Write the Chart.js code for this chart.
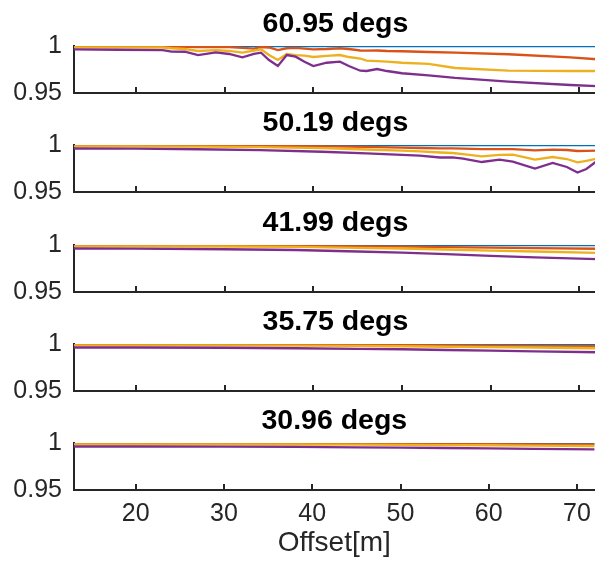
<!DOCTYPE html>
<html>
<head>
<meta charset="utf-8">
<script src="https://cdn.jsdelivr.net/npm/chart.js@4.4.1/dist/chart.umd.min.js"></script>
<style>
  html, body { margin: 0; padding: 0; background: #fff; overflow: hidden; }
  #wrap { position: relative; width: 595px; height: 561px; overflow: hidden; }
  #wrap canvas { position: absolute; left: 0; }
</style>
</head>
<body>
<div id="wrap"></div>
<script>
"use strict";

// panel titles (dip angle)
const titles = ['60.95 degs', '50.19 degs', '41.99 degs', '35.75 degs', '30.96 degs'];

const xTicks = [20, 30, 40, 50, 60, 70];
const yTicks = [0.95, 1];
const yTickLabels = ['0.95', '1'];

// 60.95 degs
const offsets61 = [13, 18, 23, 24, 25.5, 27, 29, 30.5, 32, 33.3, 34.1, 35, 36, 37, 38, 39, 40, 41.5, 43, 44, 45.3, 46, 47.2, 48.3, 50, 53, 56, 62, 69, 72];
const blue61   = [1, 1, 1, 1, 1, 1, 1, 1, 1, 1, 1, 1, 1, 1, 1, 1, 1, 1, 1, 1, 1, 1, 1, 1, 1, 1, 1, 1, 1, 1];
const orange61 = [0.9994, 0.9994, 0.9993, 0.9991, 0.9991, 0.9989, 0.9989, 0.9987, 0.9979, 0.9973, 0.9989, 0.9984, 0.9957, 0.9976, 0.9979, 0.9973, 0.9965, 0.9968, 0.9976, 0.9968, 0.9952, 0.9950, 0.9952, 0.9947, 0.9944, 0.9936, 0.9929, 0.9912, 0.9878, 0.9859];
const yellow61 = [0.9986, 0.9985, 0.9984, 0.9976, 0.9968, 0.9947, 0.9957, 0.9947, 0.9929, 0.9950, 0.9965, 0.9904, 0.9851, 0.9915, 0.9904, 0.9897, 0.9883, 0.9894, 0.9904, 0.9883, 0.9867, 0.9844, 0.9840, 0.9833, 0.9822, 0.9809, 0.9766, 0.9737, 0.9734, 0.9734];
const purple61 = [0.9965, 0.9960, 0.9957, 0.9941, 0.9939, 0.9904, 0.9933, 0.9915, 0.9880, 0.9915, 0.9929, 0.9851, 0.9787, 0.9904, 0.9886, 0.9833, 0.9787, 0.9822, 0.9833, 0.9787, 0.9737, 0.9734, 0.9755, 0.9734, 0.9710, 0.9688, 0.9660, 0.9620, 0.9585, 0.9574];

// 50.19 degs
const offsets50 = [13, 20, 27, 34, 41, 46, 50, 52, 54.3, 55.7, 56.9, 59, 61, 62.5, 65, 67, 68.6, 69.8, 70.8, 72];
const blue50   = [1, 1, 1, 1, 1, 1, 1, 1, 1, 1, 1, 1, 1, 1, 1, 1, 1, 1, 1, 1];
const orange50 = [0.9991, 0.9991, 0.9990, 0.9989, 0.9986, 0.9979, 0.9972, 0.9968, 0.9965, 0.9965, 0.9962, 0.9957, 0.9957, 0.9957, 0.9943, 0.9950, 0.9947, 0.9936, 0.9938, 0.9941];
const yellow50 = [0.9986, 0.9985, 0.9982, 0.9977, 0.9966, 0.9952, 0.9941, 0.9932, 0.9920, 0.9915, 0.9904, 0.9879, 0.9894, 0.9897, 0.9844, 0.9872, 0.9851, 0.9815, 0.9830, 0.9856];
const purple50 = [0.9963, 0.9961, 0.9955, 0.9945, 0.9928, 0.9910, 0.9894, 0.9886, 0.9867, 0.9869, 0.9856, 0.9819, 0.9844, 0.9824, 0.9750, 0.9809, 0.9766, 0.9707, 0.9745, 0.9830];

// 41.99, 35.75 and 30.96 degs share one offset grid
const offsetsLow = [13, 20, 30, 38, 45, 50, 55, 60, 65, 72];

const blue42   = [1, 1, 1, 1, 1, 1, 1, 1, 1, 1];
const orange42 = [0.9993, 0.9993, 0.9991, 0.9989, 0.9985, 0.9982, 0.9978, 0.9972, 0.9967, 0.9960];
const yellow42 = [0.9986, 0.9986, 0.9984, 0.9979, 0.9970, 0.9963, 0.9952, 0.9941, 0.9931, 0.9917];
const purple42 = [0.9963, 0.9962, 0.9955, 0.9947, 0.9931, 0.9918, 0.9902, 0.9885, 0.9869, 0.9849];

const blue36   = [1, 1, 1, 1, 1, 1, 1, 1, 1, 1];
const orange36 = [0.9993, 0.9993, 0.9993, 0.9991, 0.9989, 0.9987, 0.9985, 0.9983, 0.9981, 0.9978];
const yellow36 = [0.9986, 0.9986, 0.9985, 0.9983, 0.9979, 0.9976, 0.9971, 0.9967, 0.9963, 0.9955];
const purple36 = [0.9963, 0.9963, 0.9960, 0.9955, 0.9949, 0.9944, 0.9936, 0.9929, 0.9921, 0.9912];

const blue31   = [1, 1, 1, 1, 1, 1, 1, 1, 1, 1];
const orange31 = [0.9993, 0.9993, 0.9993, 0.9991, 0.9990, 0.9989, 0.9988, 0.9987, 0.9985, 0.9983];
const yellow31 = [0.9986, 0.9986, 0.9986, 0.9984, 0.9982, 0.9980, 0.9978, 0.9976, 0.9972, 0.9968];
const purple31 = [0.9963, 0.9963, 0.9962, 0.9959, 0.9954, 0.9951, 0.9947, 0.9943, 0.9938, 0.9933];

const colors = ['#0072BD', '#D95319', '#EDB120', '#7E2F8E'];

const panels = [
  { offsets: offsets61, series: [blue61, orange61, yellow61, purple61] },
  { offsets: offsets50, series: [blue50, orange50, yellow50, purple50] },
  { offsets: offsetsLow, series: [blue42, orange42, yellow42, purple42] },
  { offsets: offsetsLow, series: [blue36, orange36, yellow36, purple36] },
  { offsets: offsetsLow, series: [blue31, orange31, yellow31, purple31] },
];

const axisColor = '#262626';
Chart.defaults.font.family = '"Liberation Sans", Arial, Helvetica, sans-serif';
Chart.defaults.color = axisColor;

// title centred over the plot area rather than the canvas
const panelTitle = {
  id: 'panelTitle',
  afterDraw(chart, args, opts) {
    const { ctx, chartArea } = chart;
    ctx.save();
    ctx.font = 'bold 28.5px "Liberation Sans", Arial, sans-serif';
    ctx.fillStyle = '#000';
    ctx.textAlign = 'center';
    ctx.textBaseline = 'alphabetic';
    ctx.fillText(opts.text, (chartArea.left + chartArea.right) / 2, chartArea.top - 14);
    ctx.restore();
  }
};

// short tick marks pointing into the plot from the x axis
const innerTicks = {
  id: 'innerTicks',
  afterDatasetsDraw(chart) {
    const { ctx, chartArea, scales } = chart;
    ctx.save();
    ctx.strokeStyle = axisColor;
    ctx.lineWidth = 2;
    xTicks.forEach(v => {
      const px = Math.round(scales.x.getPixelForValue(v));
      ctx.beginPath();
      ctx.moveTo(px, chartArea.bottom);
      ctx.lineTo(px, chartArea.bottom - 6);
      ctx.stroke();
    });
    ctx.restore();
  }
};

const TOP_SPACE = 40;
const PLOT_H = 47;
const panelTops = [46, 145, 245, 344, 443];

function makePanel(idx) {
  const last = idx === panels.length - 1;
  const p = panels[idx];
  const canvas = document.createElement('canvas');
  const bottomSpace = last ? 70 : 28;
  canvas.width = 600;
  canvas.height = TOP_SPACE + PLOT_H + bottomSpace;
  canvas.style.top = (panelTops[idx] - TOP_SPACE) + 'px';
  document.getElementById('wrap').appendChild(canvas);

  const datasets = p.series.map((vals, i) => ({
    data: vals.map((v, j) => ({ x: p.offsets[j], y: v })),
    borderColor: colors[i],
    borderWidth: 2.3,
    pointRadius: 0,
    tension: 0,
    order: p.series.length - i
  }));

  new Chart(canvas, {
    type: 'line',
    data: { datasets },
    plugins: [panelTitle, innerTicks],
    options: {
      responsive: false,
      animation: false,
      layout: { padding: { top: TOP_SPACE, right: 3, bottom: last ? 0 : bottomSpace, left: 0 } },
      plugins: {
        legend: { display: false },
        tooltip: { enabled: false },
        panelTitle: { text: titles[idx] }
      },
      scales: {
        x: {
          type: 'linear',
          min: 13,
          max: 72,
          afterBuildTicks: s => { s.ticks = xTicks.map(v => ({ value: v })); },
          afterFit: s => { s.height = last ? bottomSpace : 0; },
          grid: { display: false, drawTicks: false },
          border: { display: true, color: axisColor, width: 2 },
          ticks: {
            display: last,
            padding: 9,
            maxRotation: 0,
            autoSkip: false,
            color: axisColor,
            font: { size: 25 }
          },
          title: {
            display: last,
            text: 'Offset[m]',
            color: axisColor,
            font: { size: 28 },
            padding: { top: 0, bottom: 0 }
          }
        },
        y: {
          min: 0.95,
          max: 1,
          afterBuildTicks: s => { s.ticks = yTicks.map(v => ({ value: v })); },
          afterFit: s => { s.width = 74; },
          grid: { display: false, drawTicks: false },
          border: { display: true, color: axisColor, width: 2 },
          ticks: {
            padding: 12,
            color: axisColor,
            font: { size: 25 },
            callback: (v, i) => yTickLabels[i]
          }
        }
      }
    }
  });
}

panels.forEach((p, i) => makePanel(i));
</script>
</body>
</html>
